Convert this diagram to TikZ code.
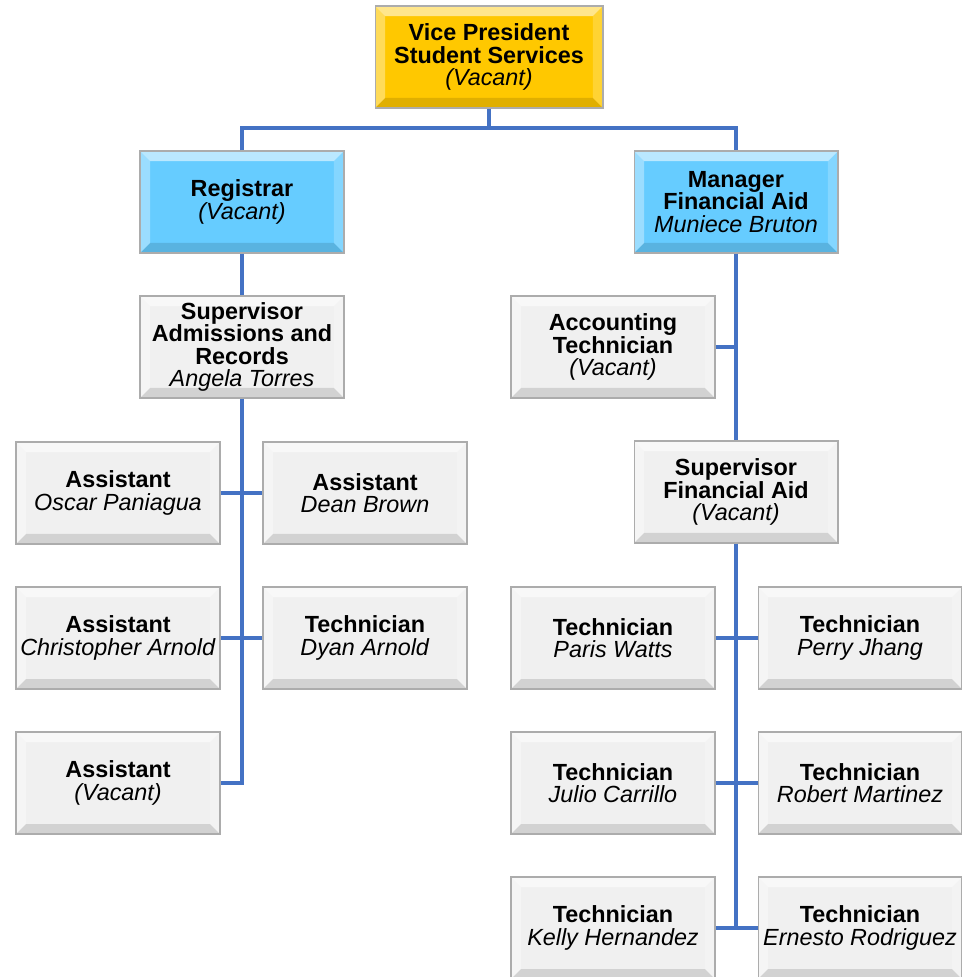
\documentclass[tikz,border=0pt]{standalone}
\usepackage{fontspec}
\setmainfont{Liberation Sans}
\definecolor{goldbase}{RGB}{255,200,0}
\definecolor{bluebase}{RGB}{102,204,255}
\definecolor{whitebase}{RGB}{240,240,240}
\definecolor{linkblue}{RGB}{68,114,196}
\newcommand\jobt[2]{\textbf{#1}\\\textit{#2}}
\tikzset{
  bevelbox/.style={draw=gray!65, line width=0.6pt, fill=#1,
    minimum width=4.08cm, minimum height=2.04cm, inner sep=0pt, align=center,
    font=\fontsize{13.3}{12.6}\selectfont,
    path picture={
      \def\bv{0.2cm}
      \coordinate (nw) at (path picture bounding box.north west);
      \coordinate (ne) at (path picture bounding box.north east);
      \coordinate (sw) at (path picture bounding box.south west);
      \coordinate (se) at (path picture bounding box.south east);
      \fill[white,opacity=.55] (nw) -- (ne) -- ([xshift=-\bv,yshift=-\bv]ne) -- ([xshift=\bv,yshift=-\bv]nw) -- cycle;
      \fill[white,opacity=.35] (nw) -- (sw) -- ([xshift=\bv,yshift=\bv]sw) -- ([xshift=\bv,yshift=-\bv]nw) -- cycle;
      \fill[white,opacity=.2] (ne) -- (se) -- ([xshift=-\bv,yshift=\bv]se) -- ([xshift=-\bv,yshift=-\bv]ne) -- cycle;
      \fill[black,opacity=.12] (sw) -- (se) -- ([xshift=-\bv,yshift=\bv]se) -- ([xshift=\bv,yshift=\bv]sw) -- cycle;
    }},
  gold/.style={bevelbox=goldbase, minimum width=4.56cm},
  bluebox/.style={bevelbox=bluebase},
  whitebox/.style={bevelbox=whitebase},
  link/.style={draw=linkblue, line width=1.9pt}
}
\begin{document}
\begin{tikzpicture}[x=0.02cm,y=-0.02cm]
\useasboundingbox (0,0) rectangle (962,977);
\fill[white] (0,0) rectangle (962,977);
% top
\node[gold] (vp) at (489,57) {\textbf{Vice President}\\\textbf{Student Services}\\\textit{(Vacant)}};
\node[bluebox] (reg) at (242,202) {\jobt{Registrar}{(Vacant)}};
\node[bluebox] (mfa) at (736,202) {\textbf{Manager}\\\textbf{Financial Aid}\\\textit{Muniece Bruton}};
% left branch
\node[whitebox] (sar) at (242,347) {\textbf{Supervisor}\\\textbf{Admissions and}\\\textbf{Records}\\\textit{Angela Torres}};
\node[whitebox] (aop) at (118,493) {\jobt{Assistant}{Oscar Paniagua}};
\node[whitebox] (adb) at (365,493) {\jobt{Assistant}{Dean Brown}};
\node[whitebox] (aca) at (118,638) {\jobt{Assistant}{Christopher Arnold}};
\node[whitebox] (tda) at (365,638) {\jobt{Technician}{Dyan Arnold}};
\node[whitebox] (avc) at (118,783) {\jobt{Assistant}{(Vacant)}};
% right branch
\node[whitebox] (act) at (613,347) {\textbf{Accounting}\\\textbf{Technician}\\\textit{(Vacant)}};
\node[whitebox] (sfa) at (736,492) {\textbf{Supervisor}\\\textbf{Financial Aid}\\\textit{(Vacant)}};
\node[whitebox] (tpw) at (613,638) {\jobt{Technician}{Paris Watts}};
\node[whitebox] (tpj) at (860,638) {\jobt{Technician}{Perry Jhang}};
\node[whitebox] (tjc) at (613,783) {\jobt{Technician}{Julio Carrillo}};
\node[whitebox] (trm) at (860,783) {\jobt{Technician}{Robert Martinez}};
\node[whitebox] (tkh) at (613,928) {\jobt{Technician}{Kelly Hernandez}};
\node[whitebox] (ter) at (860,928) {\jobt{Technician}{Ernesto Rodriguez}};
% connectors
\coordinate (bar) at (489,128);
\draw[link] (vp.south) -- (bar);
\draw[link] (reg.north) |- (bar) -| (mfa.north);
\draw[link] (reg.south) -- (sar.north);
\draw[link] (sar.south) |- (avc.east);
\draw[link] (aop.east) -- (adb.west);
\draw[link] (aca.east) -- (tda.west);
\draw[link] (mfa.south) -- (sfa.north);
\draw[link] (act.east) -- (mfa.south |- act.east);
\draw[link] (sfa.south) -- (sfa.south |- tkh.east);
\draw[link] (tpw.east) -- (tpj.west);
\draw[link] (tjc.east) -- (trm.west);
\draw[link] (tkh.east) -- (ter.west);
\end{tikzpicture}
\end{document}
